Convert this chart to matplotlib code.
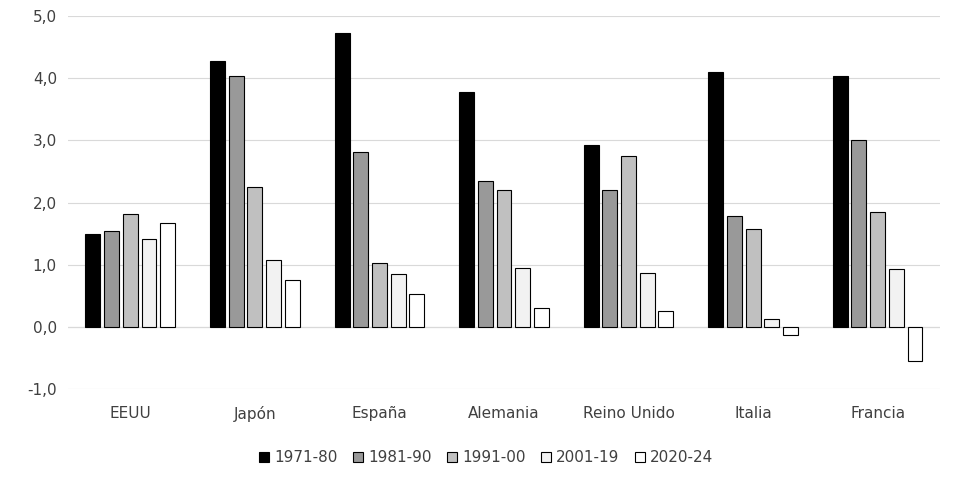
import matplotlib
matplotlib.use("Agg")
import matplotlib.pyplot as plt
import numpy as np

categories = ["EEUU", "Japón", "España", "Alemania", "Reino Unido", "Italia", "Francia"]
series = ["1971-80", "1981-90", "1991-00", "2001-19", "2020-24"]
v1971 = [1.50, 4.28, 4.73, 3.78, 2.93, 4.09, 4.03]
v1981 = [1.55, 4.04, 2.81, 2.34, 2.21, 1.79, 3.01]
v1991 = [1.81, 2.25, 1.03, 2.21, 2.75, 1.58, 1.85]
v2001 = [1.42, 1.08, 0.85, 0.95, 0.87, 0.13, 0.94]
v2020 = [1.68, 0.76, 0.53, 0.30, 0.26, -0.13, -0.55]
data = [v1971, v1981, v1991, v2001, v2020]
colors = ["#000000", "#999999", "#c0c0c0", "#f2f2f2", "#ffffff"]

fig = plt.figure(figsize=(9.72, 4.79), dpi=100)
ax = fig.add_axes([0.07, 0.187, 0.897, 0.78])
x = np.arange(len(categories))
w = 0.15
for i, (s, d, c) in enumerate(zip(series, data, colors)):
    ax.bar(x + (i - 2) * w, d, w * 0.8, color=c, edgecolor="black", linewidth=0.8, label=s, zorder=3)
ax.set_ylim(-1, 5)
ax.set_xlim(-0.5, len(categories) - 0.5)
ax.set_yticks(np.arange(-1, 6, 1))
ax.set_yticklabels([f"{t:.1f}".replace(".", ",") for t in np.arange(-1, 6, 1)])
ax.set_xticks(x)
ax.set_xticklabels(categories)
ax.grid(axis="y", color="#d9d9d9", linewidth=0.8, zorder=0)
ax.axhline(0, color="#bfbfbf", linewidth=0.8, zorder=1)
for sp in ax.spines.values():
    sp.set_visible(False)
ax.tick_params(length=0, labelsize=11, colors="#404040", pad=8)
ax.tick_params(axis="x", pad=12)
fig.legend(loc="lower center", ncol=5, frameon=False, fontsize=11, handlelength=0.7,
           handleheight=0.7, columnspacing=1.0, handletextpad=0.3, bbox_to_anchor=(0.5, 0.0),
           labelcolor="#404040")
fig.savefig("out.png", dpi=100)
